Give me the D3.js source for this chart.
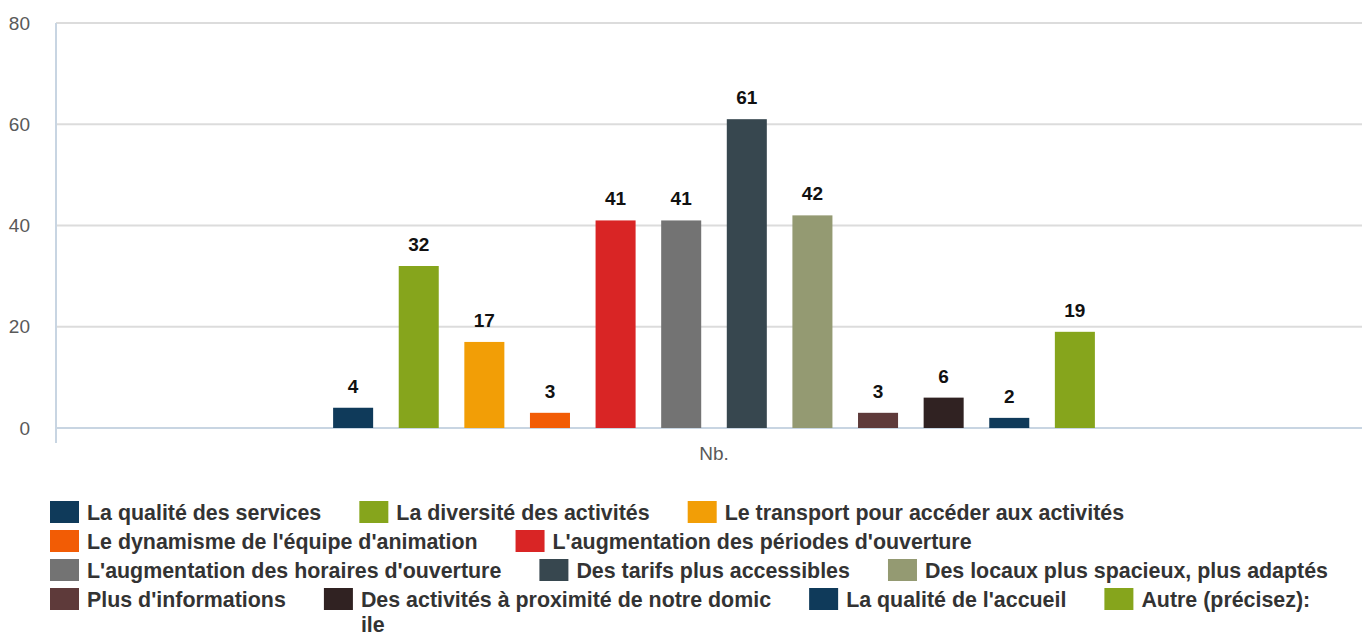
<!DOCTYPE html>
<meta charset="utf-8" />
<style>
  body { margin: 0; background: #fff; }
  svg { display: block; font-family: "Liberation Sans", Arial, sans-serif; }
  .grid line { stroke: #dcdcdc; stroke-width: 2px; }
  .ylab { fill: #595959; font-size: 19px; }
  .val { font-size: 19px; font-weight: bold; fill: #111; }
  .leg text { font-size: 21.4px; font-weight: bold; fill: #333; }
</style>
<body>
<script src="https://d3js.org/d3.v7.min.js"></script>
<script>
  // one category, twelve answers
  var category = ['Nb.'];
  var labels = [
    'La qualité des services',
    'La diversité des activités',
    'Le transport pour accéder aux activités',
    "Le dynamisme de l'équipe d'animation",
    "L'augmentation des périodes d'ouverture",
    "L'augmentation des horaires d'ouverture",
    'Des tarifs plus accessibles',
    'Des locaux plus spacieux, plus adaptés',
    "Plus d'informations",
    'Des activités à proximité de notre domicile',
    "La qualité de l'accueil",
    'Autre (précisez):'
  ];
  var values = [4, 32, 17, 3, 41, 41, 61, 42, 3, 6, 2, 19];
  var colors = ['#0f3a5a', '#86a51c', '#f29e06', '#f25c05', '#d92525', '#737373',
                '#37474f', '#949a72', '#5e3a3a', '#302222', '#0f3a5a', '#86a51c'];
  var yTicks = [0, 20, 40, 60, 80];

  var W = 1362, H = 635;
  var plotL = 56, plotR = 1372, plotT = 23, plotB = 428;

  var svg = d3.select('body').append('svg').attr('width', W).attr('height', H);

  var y = d3.scaleLinear().domain([0, 80]).range([plotB, plotT]);
  var x0 = d3.scaleBand().domain(category).range([plotL, plotR]).paddingInner(0).paddingOuter(0.3364);
  var x1 = d3.scaleBand().domain(d3.range(values.length)).range([0, x0.bandwidth()])
    .paddingInner(0.39).paddingOuter(0.19);

  // gridlines
  svg.append('g').attr('class', 'grid')
    .selectAll('line').data(yTicks.filter(function (d) { return d > 0; })).enter()
    .append('line')
    .attr('x1', plotL).attr('x2', W)
    .attr('y1', function (d) { return y(d); }).attr('y2', function (d) { return y(d); });

  // y labels
  svg.append('g').selectAll('text').data(yTicks).enter()
    .append('text').attr('class', 'ylab')
    .attr('x', 30).attr('y', function (d) { return y(d); })
    .attr('dy', '0.35em').attr('text-anchor', 'end')
    .text(function (d) { return d; });

  // axis lines
  svg.append('line').attr('x1', plotL).attr('x2', plotL).attr('y1', plotT).attr('y2', plotB + 15)
    .attr('stroke', '#c8d5e2').attr('stroke-width', 2);
  svg.append('line').attr('x1', plotL).attr('x2', W).attr('y1', plotB).attr('y2', plotB)
    .attr('stroke', '#c8d5e2').attr('stroke-width', 2);

  // bars
  var g = svg.append('g').attr('transform', 'translate(' + x0('Nb.') + ',0)');
  g.selectAll('rect').data(values).enter().append('rect')
    .attr('x', function (d, i) { return x1(i); })
    .attr('width', x1.bandwidth())
    .attr('y', function (d) { return y(d); })
    .attr('height', function (d) { return plotB - y(d); })
    .attr('fill', function (d, i) { return colors[i]; });

  g.selectAll('text').data(values).enter().append('text').attr('class', 'val')
    .attr('x', function (d, i) { return x1(i) + x1.bandwidth() / 2; })
    .attr('y', function (d) { return y(d) - 15; })
    .attr('text-anchor', 'middle')
    .text(function (d) { return d; });

  // category label
  svg.append('text').attr('class', 'ylab')
    .attr('x', x0('Nb.') + x0.bandwidth() / 2).attr('y', 460)
    .attr('text-anchor', 'middle').text(category[0]);

  // legend, flowing left to right
  var leg = svg.append('g').attr('class', 'leg');
  var lx = 50, ly = 501, rowH = 29, maxX = 1345, wrapChars = 40;
  labels.forEach(function (lab, i) {
    var lines = [];
    for (var k = 0; k < lab.length; k += wrapChars) lines.push(lab.slice(k, k + wrapChars));
    var item = leg.append('g');
    var t = item.append('text');
    lines.forEach(function (ln, j) {
      t.append('tspan').attr('x', 37).attr('y', 19 + j * 25).text(ln);
    });
    var w = 37 + t.node().getBBox().width;
    if (lx + w > maxX) { lx = 50; ly += rowH; }
    item.attr('transform', 'translate(' + lx + ',' + ly + ')');
    item.append('rect').attr('width', 29).attr('height', 22).attr('fill', colors[i]);
    lx += w + 38;
  });
</script>
</body>
